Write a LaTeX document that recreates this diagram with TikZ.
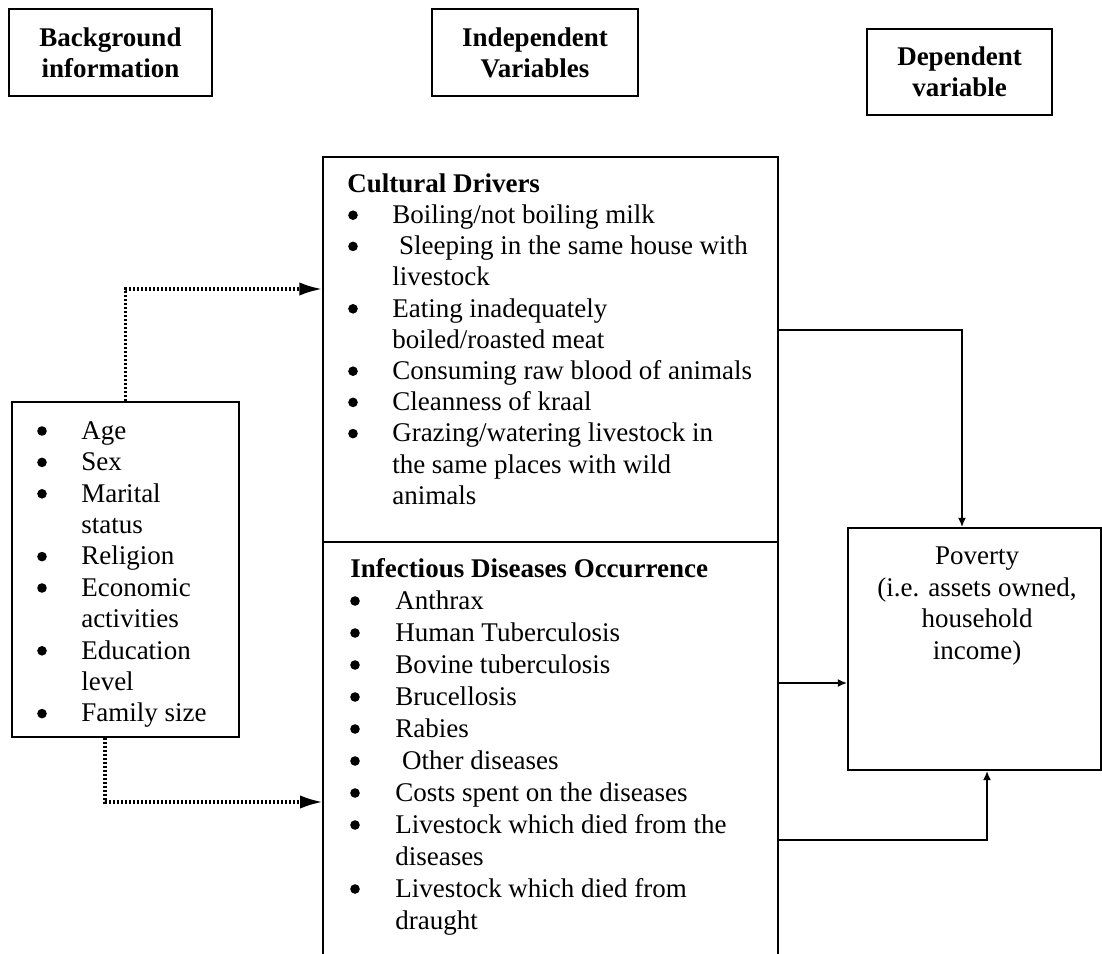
\documentclass[tikz,border=0pt]{standalone}
\usepackage{fontspec}
\setmainfont{Liberation Serif}
\usetikzlibrary{arrows.meta}
\tikzset{
  hdrbox/.style={draw, line width=1.3pt, align=center, inner sep=0pt,
    font=\fontsize{20.25pt}{23.25pt}\selectfont\bfseries},
  framebox/.style={draw, line width=1.3pt, inner sep=0pt},
  listtxt/.style={anchor=north west, align=left, inner sep=0pt},
  bulletdot/.style={fill=black},
  dotarr/.style={line width=2.3pt, dash pattern=on 1.5pt off 1.5pt, -{Latex[length=17pt,width=10pt]}},
  solarr/.style={line width=1.3pt, -{Latex[length=7pt,width=6pt]}},
}
\begin{document}
\begin{tikzpicture}[x=0.75pt, y=-0.75pt]
\useasboundingbox (0,0) rectangle (1102,953);

% header boxes
\node[hdrbox, minimum width=152.25pt, minimum height=65.25pt] (hbg) at (110.5,52.5) {Background\\information};
\node[hdrbox, minimum width=154.5pt, minimum height=65.25pt] (hind) at (535,52.5) {Independent\\Variables};
\node[hdrbox, minimum width=138.75pt, minimum height=64.5pt] (hdep) at (959.5,72) {Dependent\\variable};

% background box
\node[framebox, minimum width=170.25pt, minimum height=251.25pt] (bgbox) at (125.5,569.5) {};
\node[listtxt, font=\fontsize{20.25pt}{23.55pt}\selectfont] (bglist) at (81,415) {\rule{0pt}{18pt}Age\\
Sex\\
Marital\\
status\\
Religion\\
Economic\\
activities\\
Education\\
level\\
Family size};
\foreach \k in {0,1,2,4,5,7,9}
  \fill[bulletdot] (42,439+\k*31.4-8) circle[radius=3.6pt];

% cultural drivers box
\node[framebox, minimum width=341.25pt, minimum height=288.75pt] (cult) at (550.5,349.5) {};
\node[listtxt, font=\fontsize{20.25pt}{23.4pt}\selectfont] (culttxt) at (347,168) {\rule{0pt}{18pt}\textbf{Cultural Drivers}\\
\hspace*{33.75pt}Boiling/not boiling milk\\
\hspace*{33.75pt}\ Sleeping in the same house with\\
\hspace*{33.75pt}livestock\\
\hspace*{33.75pt}Eating inadequately\\
\hspace*{33.75pt}boiled/roasted meat\\
\hspace*{33.75pt}Consuming raw blood of animals\\
\hspace*{33.75pt}Cleanness of kraal\\
\hspace*{33.75pt}Grazing/watering livestock in\\
\hspace*{33.75pt}the same places with wild\\
\hspace*{33.75pt}animals};
\foreach \k in {1,2,4,6,7,8}
  \fill[bulletdot] (353,192+\k*31.2-8) circle[radius=3.6pt];

% infectious diseases box (open at the bottom)
\node[inner sep=0pt, minimum width=341.25pt, minimum height=313.5pt] (inf) at (550.5,751) {};
\draw[line width=1.3pt] (inf.south west) -- (inf.north west) -- (inf.north east) -- (inf.south east);
\node[listtxt, font=\fontsize{20.25pt}{24pt}\selectfont] (inftxt) at (350,553) {\rule{0pt}{18pt}\textbf{Infectious Diseases Occurrence}\\
\hspace*{33.75pt}Anthrax\\
\hspace*{33.75pt}Human Tuberculosis\\
\hspace*{33.75pt}Bovine tuberculosis\\
\hspace*{33.75pt}Brucellosis\\
\hspace*{33.75pt}Rabies\\
\hspace*{33.75pt}\ Other diseases\\
\hspace*{33.75pt}Costs spent on the diseases\\
\hspace*{33.75pt}Livestock which died from the\\
\hspace*{33.75pt}diseases\\
\hspace*{33.75pt}Livestock which died from\\
\hspace*{33.75pt}draught};
\foreach \k in {1,2,3,4,5,6,7,8,10}
  \fill[bulletdot] (355,577+\k*32-8) circle[radius=3.6pt];

% poverty box
\node[framebox, minimum width=189.75pt, minimum height=181.5pt] (pov) at (974.5,649) {};
\node[anchor=north, align=center, inner sep=0pt, font=\fontsize{20.25pt}{23.8pt}\selectfont] (povtxt) at (977,540) {\rule{0pt}{18pt}Poverty\\(i.e. assets owned,\\household\\income)};

% connector bend points
\coordinate (c1) at (125,289);
\coordinate (c2) at (105,802);
\coordinate (c3) at (962,330);
\coordinate (c4) at (800,683);
\coordinate (c5) at (987,840);

% dotted arrows
\draw[dotarr] (bgbox.north) |- (cult.west |- c1);
\draw[dotarr] ([xshift=-15.4pt]bgbox.south) |- (inf.west |- c2);

% solid arrows to poverty
\draw[solarr] (cult.east |- c3) -- (c3) -- (c3 |- pov.north);
\draw[solarr] (inf.east |- c4) -- (pov.west |- c4);
\draw[solarr] (inf.east |- c5) -- (c5) -- (c5 |- pov.south);
\end{tikzpicture}
\end{document}
